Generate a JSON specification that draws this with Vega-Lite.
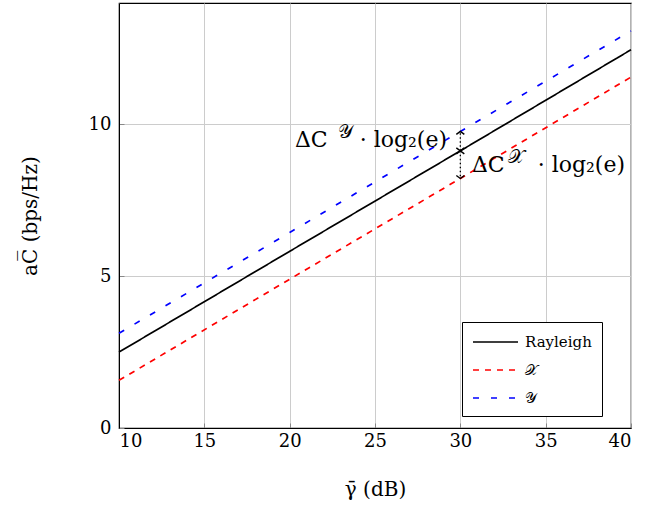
{
  "$schema": "https://vega.github.io/schema/vega-lite/v6.json",
  "width": 512,
  "height": 425,
  "autosize": {"type": "none"},
  "padding": {"left": 119, "top": 3, "right": 36, "bottom": 80},
  "background": "white",
  "config": {
    "view": {"stroke": "black", "strokeWidth": 1.2},
    "font": "DejaVu Serif",
    "axis": {
      "labelFont": "DejaVu Serif",
      "titleFont": "DejaVu Serif",
      "labelFontSize": 18,
      "titleFontSize": 20,
      "labelColor": "black",
      "titleColor": "black",
      "titleFontWeight": "normal",
      "domainColor": "black",
      "gridColor": "#cccccc",
      "gridWidth": 1,
      "ticks": true,
      "tickSize": -5,
      "tickColor": "#888888"
    }
  },
  "datasets": {
    "curves": [
      {"snr": 10, "rate": 2.5, "series": "Rayleigh"},
      {"snr": 20, "rate": 5.82, "series": "Rayleigh"},
      {"snr": 30, "rate": 9.13, "series": "Rayleigh"},
      {"snr": 40, "rate": 12.46, "series": "Rayleigh"},
      {"snr": 10, "rate": 1.57, "series": "𝒳"},
      {"snr": 20, "rate": 4.9, "series": "𝒳"},
      {"snr": 30, "rate": 8.22, "series": "𝒳"},
      {"snr": 40, "rate": 11.56, "series": "𝒳"},
      {"snr": 10, "rate": 3.12, "series": "𝒴"},
      {"snr": 20, "rate": 6.44, "series": "𝒴"},
      {"snr": 30, "rate": 9.77, "series": "𝒴"},
      {"snr": 40, "rate": 13.08, "series": "𝒴"}
    ],
    "arrows": [
      {"snr": 30, "from": 9.13, "to": 9.77},
      {"snr": 30, "from": 9.13, "to": 8.22}
    ],
    "heads": [
      {"snr": 30, "rate": 9.77, "dir": "up"},
      {"snr": 30, "rate": 9.13, "dir": "down"},
      {"snr": 30, "rate": 9.13, "dir": "up"},
      {"snr": 30, "rate": 8.22, "dir": "down"}
    ],
    "leftText": [
      {"snr": 20.31, "rate": 9.26, "label": "ΔC"},
      {"snr": 30.68, "rate": 8.43, "label": "ΔC"}
    ],
    "rightText": [
      {"snr": 29.22, "rate": 9.26, "label": "· log₂(e)"},
      {"snr": 39.65, "rate": 8.43, "label": "· log₂(e)"}
    ],
    "supText": [
      {"snr": 22.83, "rate": 9.55, "label": "𝒴"},
      {"snr": 32.79, "rate": 8.73, "label": "𝒳"}
    ]
  },
  "layer": [
    {
      "data": {"name": "curves"},
      "mark": {"type": "line", "strokeWidth": 1.7},
      "encoding": {
        "x": {
          "field": "snr", "type": "quantitative",
          "scale": {"domain": [10, 40], "nice": false, "zero": false},
          "axis": {"values": [10, 15, 20, 25, 30, 35, 40], "title": "γ̄ (dB)", "labelPadding": 9, "titlePadding": 29, "grid": true}
        },
        "y": {
          "field": "rate", "type": "quantitative",
          "scale": {"domain": [0, 14], "nice": false},
          "axis": {"values": [0, 5, 10], "title": "aC̅ (bps/Hz)", "labelPadding": 13, "titlePadding": 48, "grid": true}
        },
        "color": {
          "field": "series", "type": "nominal",
          "scale": {"domain": ["Rayleigh", "𝒳", "𝒴"], "range": ["black", "#ff0000", "#0000ff"]},
          "legend": {
            "title": null,
            "orient": "none",
            "legendX": 343,
            "legendY": 319,
            "strokeColor": "black",
            "fillColor": "white",
            "padding": 10,
            "symbolType": "M-1,0L4,0",
            "symbolSize": 324,
            "symbolStrokeWidth": 1.7,
            "labelOffset": 33,
            "labelFont": "DejaVu Serif",
            "labelFontSize": 15,
            "labelColor": "black",
            "rowPadding": 10
          }
        },
        "strokeDash": {
          "field": "series", "type": "nominal",
          "scale": {"domain": ["Rayleigh", "𝒳", "𝒴"], "range": [[1, 0], [6, 6], [6, 12]]},
          "legend": {
            "title": null,
            "orient": "none",
            "legendX": 343,
            "legendY": 319,
            "strokeColor": "black",
            "fillColor": "white",
            "padding": 10,
            "symbolType": "M-1,0L4,0",
            "symbolSize": 324,
            "symbolStrokeWidth": 1.7,
            "labelOffset": 33,
            "labelFont": "DejaVu Serif",
            "labelFontSize": 15,
            "labelColor": "black",
            "rowPadding": 10
          }
        }
      }
    },
    {
      "data": {"name": "arrows"},
      "mark": {"type": "rule", "color": "black", "strokeWidth": 1.3, "strokeDash": [1.5, 2.5]},
      "encoding": {
        "x": {"field": "snr", "type": "quantitative"},
        "y": {"field": "from", "type": "quantitative"},
        "y2": {"field": "to"}
      }
    },
    {
      "data": {"name": "heads"},
      "mark": {"type": "point", "filled": false, "color": "black", "strokeWidth": 1.4, "size": 100, "opacity": 1},
      "encoding": {
        "x": {"field": "snr", "type": "quantitative"},
        "y": {"field": "rate", "type": "quantitative"},
        "shape": {
          "field": "dir", "type": "nominal",
          "scale": {"domain": ["up", "down"], "range": ["M-0.8,0.6L0,0L0.8,0.6", "M-0.8,-0.6L0,0L0.8,-0.6"]},
          "legend": null
        }
      }
    },
    {
      "data": {"name": "leftText"},
      "mark": {"type": "text", "align": "left", "baseline": "alphabetic", "fontSize": 22, "color": "black", "font": "DejaVu Serif"},
      "encoding": {
        "x": {"field": "snr", "type": "quantitative"},
        "y": {"field": "rate", "type": "quantitative"},
        "text": {"field": "label"}
      }
    },
    {
      "data": {"name": "rightText"},
      "mark": {"type": "text", "align": "right", "baseline": "alphabetic", "fontSize": 22, "color": "black", "font": "DejaVu Serif"},
      "encoding": {
        "x": {"field": "snr", "type": "quantitative"},
        "y": {"field": "rate", "type": "quantitative"},
        "text": {"field": "label"}
      }
    },
    {
      "data": {"name": "supText"},
      "mark": {"type": "text", "align": "left", "baseline": "alphabetic", "fontSize": 19, "color": "black", "font": "DejaVu Serif"},
      "encoding": {
        "x": {"field": "snr", "type": "quantitative"},
        "y": {"field": "rate", "type": "quantitative"},
        "text": {"field": "label"}
      }
    }
  ]
}
